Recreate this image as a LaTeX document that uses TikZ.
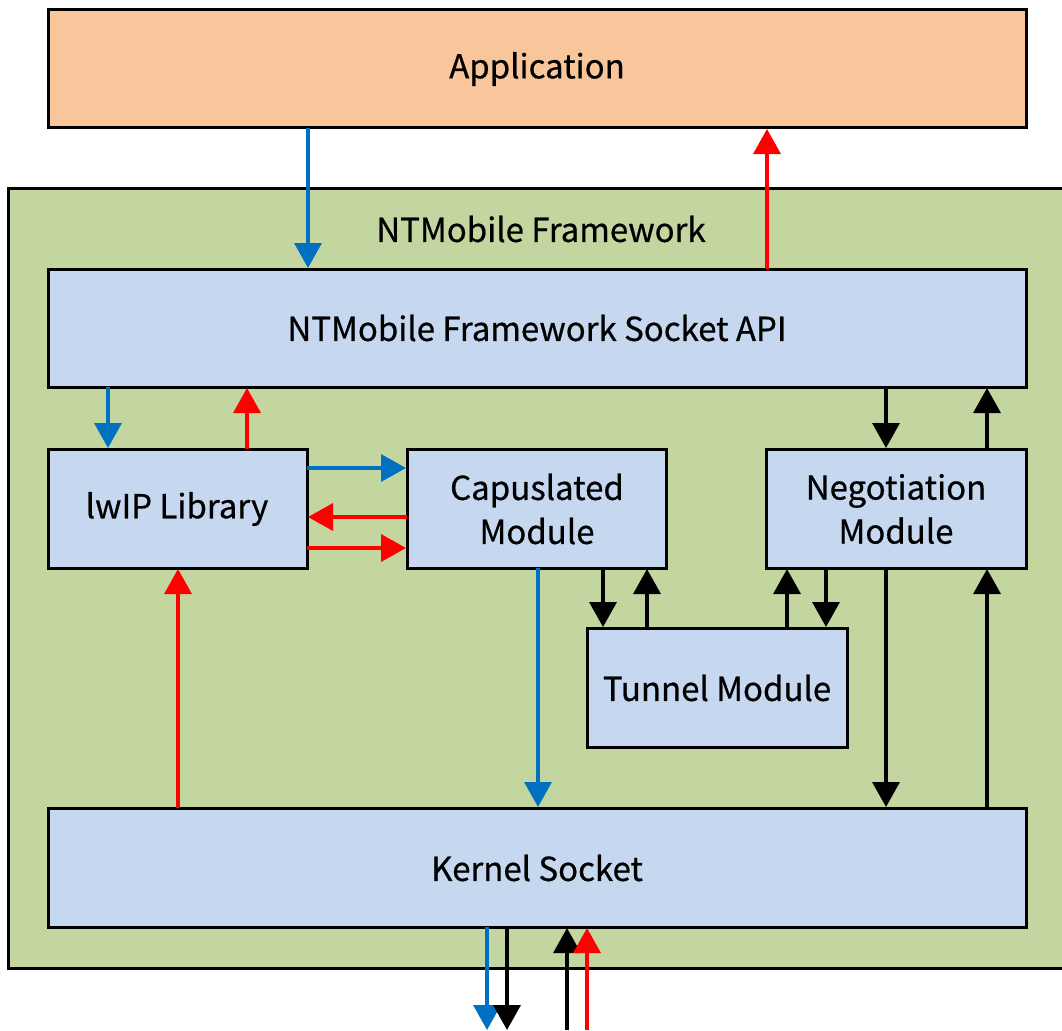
\documentclass[tikz,border=0pt]{standalone}
\usepackage{fontspec}
\setmainfont{Noto Sans CJK JP}[FakeBold=0.6]
\newfontfamily\labelfont{Noto Sans CJK JP}[FakeBold=0.6]
\usetikzlibrary{arrows.meta}
\definecolor{appfill}{HTML}{F9C59B}
\definecolor{fwfill}{HTML}{C4D6A0}
\definecolor{boxfill}{HTML}{C6D8EF}
\definecolor{ablue}{HTML}{0070C0}
\definecolor{ared}{HTML}{FF0000}
\begin{document}
\begin{tikzpicture}[x=1pt,y=-1pt,
  box/.style={draw=black,line width=3pt,fill=boxfill},
  lbl/.style={font=\labelfont\fontsize{33}{44}\selectfont,align=center},
  arr/.style={line width=3.5pt,-{Triangle[length=25pt,width=27pt]}},
  bl/.style={arr,draw=ablue,fill=ablue},
  rd/.style={arr,draw=ared,fill=ared},
  bk/.style={arr,draw=black,fill=black}]
\useasboundingbox (0,0) rectangle (1062,1030);
\fill[white] (0,0) rectangle (1062,1030);
\draw[line width=3pt,fill=fwfill] (1080,188) -- (8,188) -- (8,968) -- (1080,968);
\node[lbl] (title) at (541,229) {NTMobile Framework};
\path[draw=black,line width=3pt,fill=appfill] (48,10) rectangle (1026,128);
\node[lbl] (app) at (537,69) {Application};
\path[box] (48,269) rectangle (1026,387);
\node[lbl] (api) at (537,328) {NTMobile Framework Socket API};
\path[box] (48,449) rectangle (307,568);
\node[lbl] (lwip) at (177,509) {lwIP Library};
\path[box] (407,449) rectangle (666,568);
\node[lbl] (cap) at (537,509) {Capuslated\\Module};
\path[box] (766,449) rectangle (1026,568);
\node[lbl] (neg) at (896,509) {Negotiation\\Module};
\path[box] (587,628) rectangle (847,747);
\node[lbl] (tun) at (717,688) {Tunnel Module};
\path[box] (48,808) rectangle (1026,927);
\node[lbl] (ker) at (537,868) {Kernel Socket};
\coordinate (b1) at (487,1030);
\coordinate (b2) at (507,1030);
\coordinate (b3) at (567,1030);
\coordinate (b4) at (587,1030);
% app <-> api
\draw[bl] (308,128) -- (308,268);
\draw[rd] (767,269) -- (767,129);
% api <-> lwip
\draw[bl] (108,387) -- (108,448);
\draw[rd] (247,449) -- (247,388);
% api <-> neg
\draw[bk] (886,387) -- (886,448);
\draw[bk] (987,449) -- (987,388);
% lwip <-> cap
\draw[bl] (307,468) -- (406,468);
\draw[rd] (407,517) -- (308,517);
\draw[rd] (307,548) -- (406,548);
% cap -> kernel
\draw[bl] (538,568) -- (538,807);
% cap <-> tunnel
\draw[bk] (603,568) -- (603,627);
\draw[bk] (647,628) -- (647,569);
% tunnel <-> neg
\draw[bk] (787,628) -- (787,569);
\draw[bk] (826,568) -- (826,627);
% kernel -> lwip
\draw[rd] (178,808) -- (178,569);
% neg <-> kernel
\draw[bk] (886,568) -- (886,807);
\draw[bk] (987,808) -- (987,569);
% kernel bottom
\draw[bl] (487,927) -- (b1);
\draw[bk] (507,927) -- (b2);
\draw[bk] (b3) -- (567,928);
\draw[rd] (b4) -- (587,928);
\end{tikzpicture}
\end{document}
